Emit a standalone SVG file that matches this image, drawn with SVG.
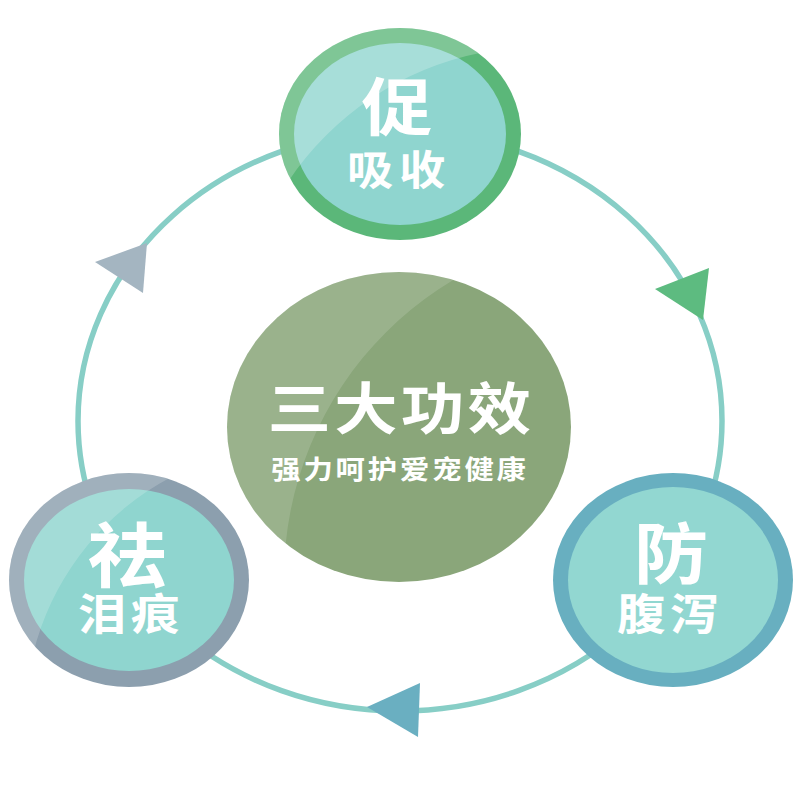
<svg xmlns="http://www.w3.org/2000/svg" width="800" height="800" viewBox="0 0 800 800">
<defs>
<style>
.t{font-family:"Noto Sans CJK SC","Noto Sans",sans-serif;font-weight:700;fill:#fff;text-anchor:middle}
.s{font-weight:600}
.hl{fill:#fff;fill-rule:evenodd}
.inner{fill:#8fd5cf}
</style>
<clipPath id="cTop"><ellipse cx="400" cy="134" rx="121" ry="106"/></clipPath>
<clipPath id="cLeft"><ellipse cx="129" cy="580" rx="120" ry="107"/></clipPath>
<clipPath id="cCenter"><ellipse cx="399" cy="427" rx="172" ry="155"/></clipPath>
</defs>
<rect width="800" height="800" fill="#fff"/>
<g id="connectors">
<ellipse cx="400" cy="421" rx="322" ry="290" fill="none" stroke="#87cec6" stroke-width="5.5"/>
<polygon points="95,262 147,243 143,293" fill="#a4b5c1"/>
<polygon points="655,289 709,268 703,320" fill="#5dbb80"/>
<polygon points="367,707 420,683 418,737" fill="#6aafc1"/>
</g>
<g id="node-center">
<ellipse cx="399" cy="427" rx="172" ry="155" fill="#8aa67a"/>
<g clip-path="url(#cCenter)"><path class="hl" fill-opacity="0.14" d="M0 0H800V800H0Z M284 578a347 347 0 1 0 694 0a347 347 0 1 0 -694 0Z"/></g>
<text class="t" transform="translate(401 429) scale(1.13 1)" font-size="56" letter-spacing="3">三大功效</text>
<text class="t s" transform="translate(400 479) scale(1.13 1)" font-size="26" letter-spacing="2.5">强力呵护爱宠健康</text>
</g>
<g id="node-top">
<ellipse cx="400" cy="134" rx="121" ry="106" fill="#5bb779"/>
<ellipse class="inner" cx="400" cy="134" rx="106" ry="91"/>
<g clip-path="url(#cTop)"><path class="hl" fill-opacity="0.22" d="M0 0H800V800H0Z M237 350a303 303 0 1 0 606 0a303 303 0 1 0 -606 0Z"/></g>
<text class="t" transform="translate(397 130) scale(1.13 1)" font-size="63">促</text>
<text class="t s" transform="translate(399 185) scale(1.13 1)" font-size="41" letter-spacing="5">吸收</text>
</g>
<g id="node-left">
<ellipse cx="129" cy="580" rx="120" ry="107" fill="#8c9fae"/>
<ellipse class="inner" cx="129" cy="580" rx="105" ry="91"/>
<g clip-path="url(#cLeft)"><path class="hl" fill-opacity="0.18" d="M0 0H800V800H0Z M25 720a275 275 0 1 0 550 0a275 275 0 1 0 -550 0Z"/></g>
<text class="t" transform="translate(127 582) scale(1.13 1)" font-size="70">祛</text>
<text class="t s" transform="translate(131 630) scale(1.13 1)" font-size="43" letter-spacing="4">泪痕</text>
</g>
<g id="node-right">
<ellipse cx="673" cy="580" rx="120" ry="107" fill="#68afc0"/>
<ellipse cx="673" cy="580" rx="105" ry="93" fill="#92d7d1"/>
<text class="t" transform="translate(671 578) scale(1.13 1)" font-size="66">防</text>
<text class="t s" transform="translate(670 630) scale(1.13 1)" font-size="43" letter-spacing="4">腹泻</text>
</g>
</svg>
